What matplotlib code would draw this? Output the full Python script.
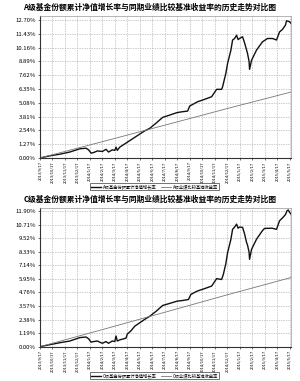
import matplotlib
matplotlib.use("Agg")
import matplotlib.pyplot as plt

plt.rcParams['font.family'] = ['Noto Sans CJK SC', 'DejaVu Sans']

# x tick labels (monthly)
date_labels = ["2013/9/17", "2013/10/17", "2013/11/17", "2013/12/17", "2014/1/17",
               "2014/2/17", "2014/3/17", "2014/4/17", "2014/5/17", "2014/6/17",
               "2014/7/17", "2014/8/17", "2014/9/17", "2014/10/17", "2014/11/17",
               "2014/12/17", "2015/1/17", "2015/2/17", "2015/3/17", "2015/4/17",
               "2015/5/17"]

# month offsets of the read points
t_a = [0, 0.8, 1.6, 2.4, 3.2, 3.7, 3.9, 4.1, 4.3, 4.6, 5.0, 5.3, 5.5, 5.8, 6.0, 6.1, 6.2,
       6.4, 6.8, 7.2, 7.6, 8.0, 8.4, 8.8, 9.3, 9.84, 10.4, 10.96, 11.36, 11.84, 12.0,
       12.64, 13.2, 13.76, 14.16, 14.56, 14.64, 14.9, 15.04, 15.3, 15.44, 15.6, 15.76,
       15.88, 16.0, 16.24, 16.4, 16.56, 16.64, 16.76, 16.8, 16.96, 17.36, 17.84, 18.24,
       18.64, 18.96, 19.2, 19.44, 19.68, 19.76, 20.0, 20.12]
nav_a = [0.00, 0.20, 0.35, 0.55, 0.85, 0.90, 0.75, 0.45, 0.50, 0.65, 0.60, 0.80, 0.55,
         0.75, 0.70, 1.00, 0.70, 1.00, 1.30, 1.60, 1.90, 2.20, 2.50, 2.73, 3.20, 3.74,
         3.95, 4.17, 4.25, 4.32, 4.78, 5.18, 5.40, 5.64, 6.32, 6.32, 6.56, 7.80, 8.71,
         9.90, 10.86, 11.00, 11.30, 10.90, 11.00, 11.16, 10.60, 9.94, 9.60, 8.90, 8.16,
         9.00, 9.94, 10.70, 11.00, 11.00, 10.86, 11.60, 11.84, 12.24, 12.63, 12.54, 12.40]

t_c = [0, 0.8, 1.6, 2.4, 3.2, 3.7, 3.9, 4.1, 4.3, 4.6, 5.0, 5.3, 5.5, 5.8, 6.0, 6.1, 6.2,
       6.4, 6.9, 7.0, 7.3, 7.6, 8.0, 8.4, 8.8, 9.3, 9.84, 10.4, 11.0, 11.4, 11.9, 12.1,
       12.6, 13.2, 13.76, 14.16, 14.56, 14.7, 14.9, 15.04, 15.3, 15.44, 15.6, 15.76,
       15.88, 16.0, 16.24, 16.4, 16.56, 16.64, 16.76, 16.8, 16.96, 17.36, 17.84, 18.0,
       18.6, 18.96, 19.2, 19.44, 19.68, 19.8, 19.9, 20.0, 20.12]
nav_c = [0.00, 0.18, 0.35, 0.50, 0.80, 0.85, 0.70, 0.40, 0.45, 0.50, 0.30, 0.45, 0.30,
         0.50, 0.45, 0.94, 0.50, 0.60, 0.75, 1.10, 1.40, 1.80, 2.10, 2.40, 2.67, 3.10,
         3.62, 3.80, 4.00, 4.05, 4.14, 4.59, 4.88, 5.10, 5.32, 5.97, 5.90, 6.35, 7.30,
         8.26, 9.40, 10.30, 10.50, 10.76, 10.40, 10.50, 10.47, 9.90, 9.14, 8.90, 8.30,
         7.67, 8.55, 9.44, 10.20, 10.38, 10.40, 10.30, 11.05, 11.30, 11.60, 11.93, 12.00,
         11.80, 11.64]

t_bench = [0, 5, 10, 15, 20.12]
bench = [0.00, 1.50, 3.02, 4.55, 6.07]

yticks_a = [0.00, 1.27, 2.54, 3.81, 5.08, 6.35, 7.62, 8.89, 10.16, 11.43, 12.70]
yticks_c = [0.00, 1.19, 2.38, 3.57, 4.76, 5.95, 7.14, 8.33, 9.52, 10.71, 11.90]

panels = [
    ("A", t_a, nav_a, yticks_a, [0.133, 0.5853, 0.837, 0.3727], 13.07, 0.510),
    ("C", t_c, nav_c, yticks_c, [0.133, 0.0900, 0.837, 0.3640], 12.17, 0.014),
]

fig = plt.figure(figsize=(3.0, 3.81), dpi=100)

for cls, t, nav, yt, rect, ytop, leg_y in panels:
    ax = fig.add_axes(rect)
    ax.plot(t, nav, color='#111111', lw=1.0, label=cls + "级基金份额累计净值增长率")
    ax.plot(t_bench, bench, color='#777777', lw=0.6, label=cls + "级业绩比较基准收益率")
    ax.set_xlim(0, 20.12)
    ax.set_ylim(0, ytop)
    ax.set_xticks(range(len(date_labels)))
    ax.set_xticklabels(date_labels, rotation=90, fontsize=2.9)
    ax.set_yticks(yt)
    ax.set_yticklabels(["%.2f%%" % v for v in yt], fontsize=4.3)
    ax.tick_params(length=1.5, width=0.4, pad=1.5)
    ax.tick_params(axis='x', pad=1.0)
    ax.grid(True, color='#b5b5b5', lw=0.5, linestyle=(0, (2, 1.5)))
    for s in ['top', 'right']:
        ax.spines[s].set_color('#999999')
        ax.spines[s].set_linewidth(0.5)
    for s in ['left', 'bottom']:
        ax.spines[s].set_color('#333333')
        ax.spines[s].set_linewidth(0.8)
    top = rect[1] + rect[3]
    fig.text(0.5, top + 0.012, cls + "级基金份额累计净值增长率与同期业绩比较基准收益率的历史走势对比图",
             ha='center', va='bottom', fontsize=5.6, fontweight='bold')
    leg = fig.legend(handles=ax.get_lines(), loc='center', bbox_to_anchor=(0.515, leg_y),
                     ncol=2, fontsize=3.1, frameon=True, fancybox=False, edgecolor='#333333',
                     handlelength=2.2, columnspacing=1.2, borderpad=0.25, handletextpad=0.4)
    leg.get_frame().set_linewidth(0.6)

fig.savefig("out.png", dpi=100)
